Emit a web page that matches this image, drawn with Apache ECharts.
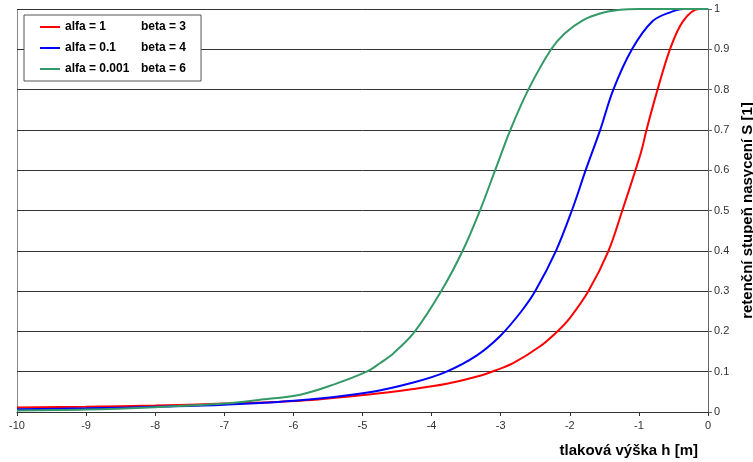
<!DOCTYPE html>
<html><head><meta charset="utf-8">
<script src="https://cdn.jsdelivr.net/npm/echarts@6/dist/echarts.min.js"></script>
<style>html,body{margin:0;padding:0;background:#fff}#c{width:753px;height:462px}</style>
</head><body><div id="c"></div>
<script>
var seriesNames = ['alfa = 1', 'alfa = 0.1', 'alfa = 0.001'];
var betaLabels = ['beta = 3', 'beta = 4', 'beta = 6'];
var xTicks = [-10, -9, -8, -7, -6, -5, -4, -3, -2, -1, 0];
var yTicks = [0, 0.1, 0.2, 0.3, 0.4, 0.5, 0.6, 0.7, 0.8, 0.9, 1];

var hRed = [-10, -9, -8, -7, -5.9, -4.94, -4.265, -3.78, -3.3, -3.11, -2.82, -2.43, -2.18, -2.0, -1.73, -1.44, -1.24, -1.05, -0.96, -0.89, -0.73, -0.55, -0.36, -0.13, 0];
var sRed = [0.011, 0.013, 0.016, 0.021, 0.028, 0.043, 0.057, 0.070, 0.09, 0.101, 0.121, 0.163, 0.2, 0.233, 0.3, 0.4, 0.5, 0.6, 0.65, 0.7, 0.8, 0.9, 0.97, 1.0, 1.0];

var hBlue = [-10, -9, -8, -7, -5.9, -4.9, -4.25, -3.8, -3.35, -3.0, -2.7, -2.5, -2.2, -1.97, -1.77, -1.56, -1.37, -1.1, -0.8, -0.53, -0.36, 0];
var sBlue = [0.007, 0.009, 0.013, 0.018, 0.029, 0.049, 0.074, 0.099, 0.14, 0.19, 0.25, 0.3, 0.4, 0.5, 0.6, 0.7, 0.8, 0.9, 0.97, 0.993, 1.0, 1.0];

var hGreen = [-10, -9, -8, -7, -6.5, -5.9, -5.42, -4.94, -4.75, -4.55, -4.25, -3.86, -3.55, -3.3, -3.08, -2.86, -2.6, -2.27, -2.07, -1.8, -1.56, -1.27, -1.0, 0];
var sGreen = [0.004, 0.006, 0.012, 0.021, 0.03, 0.043, 0.068, 0.1, 0.121, 0.146, 0.198, 0.3, 0.4, 0.5, 0.6, 0.7, 0.8, 0.9, 0.94, 0.973, 0.989, 0.998, 1.0, 1.0];

function pairs(h, s) { return h.map(function (v, i) { return [v, s[i]]; }); }

var chart = echarts.init(document.getElementById('c'), null, { renderer: 'canvas' });
var font = '"Liberation Sans", Arial, sans-serif';
var lineIcon = 'path://M0,0H20V2H0Z';
chart.setOption({
  animation: false,
  backgroundColor: '#fff',
  textStyle: { fontFamily: font },
  grid: { left: 17, right: 45, top: 9, bottom: 50, containLabel: false, outerBoundsMode: 'none' },
  legend: {
    orient: 'vertical', left: 24, top: 15,
    padding: [6, 15, 6, 16], itemGap: 9, itemWidth: 20, itemHeight: 14,
    backgroundColor: '#fff', borderColor: '#555', borderWidth: 1,
    data: seriesNames.map(function (n) { return { name: n, icon: lineIcon }; }),
    itemStyle: { borderWidth: 0 },
    textStyle: { fontFamily: font, fontSize: 12, fontWeight: 'bold', color: '#000',
      rich: { a: { width: 76, fontFamily: font, fontSize: 12, fontWeight: 'bold', color: '#000' },
              b: { fontFamily: font, fontSize: 12, fontWeight: 'bold', color: '#000' } } },
    formatter: function (name) { var i = seriesNames.indexOf(name); return '{a|' + name + '}{b|' + betaLabels[i] + '}'; }
  },
  xAxis: {
    type: 'value', min: xTicks[0], max: xTicks[xTicks.length - 1], interval: 1,
    axisLine: { show: true, onZero: false, lineStyle: { color: '#333', width: 1 } },
    axisTick: { show: true, length: 4, lineStyle: { color: '#333' } },
    axisLabel: { color: '#333', fontSize: 11, fontFamily: font, margin: 8 },
    splitLine: { show: false }
  },
  yAxis: {
    type: 'value', position: 'right', min: yTicks[0], max: yTicks[yTicks.length - 1], interval: 0.1,
    axisLine: { show: true, lineStyle: { color: '#666', width: 1 } },
    axisTick: { show: true, length: 4, lineStyle: { color: '#666' } },
    axisLabel: { color: '#333', fontSize: 11, fontFamily: font, margin: 6,
                 formatter: function (v) { return String(Math.round(v * 10) / 10); } },
    splitLine: { show: true, lineStyle: { color: '#333', width: 1 } },
    name: 'retenční stupeň nasycení S [1]', nameLocation: 'middle', nameRotate: 90, nameGap: 28,
    nameTextStyle: { fontFamily: font, fontSize: 15, fontWeight: 'bold', color: '#000' }
  },
  graphic: [
    { type: 'line', shape: { x1: 17.5, y1: 9, x2: 17.5, y2: 412 }, style: { stroke: '#888', lineWidth: 1 }, silent: true },
    { type: 'line', shape: { x1: 17, y1: 9.5, x2: 708, y2: 9.5 }, style: { stroke: '#999', lineWidth: 1 }, silent: true },
    { type: 'text', x: 698, y: 451, style: { text: 'tlaková výška h [m]', font: 'bold 15px "Liberation Sans", Arial, sans-serif', fill: '#000', align: 'right', verticalAlign: 'middle' } }
  ],
  series: [
    { name: seriesNames[0], type: 'line', data: pairs(hRed, sRed), smooth: 0.35, symbol: 'none', lineStyle: { color: '#ff0000', width: 2 }, itemStyle: { color: '#ff0000' }, z: 3 },
    { name: seriesNames[1], type: 'line', data: pairs(hBlue, sBlue), smooth: 0.35, symbol: 'none', lineStyle: { color: '#0000ff', width: 2 }, itemStyle: { color: '#0000ff' }, z: 4 },
    { name: seriesNames[2], type: 'line', data: pairs(hGreen, sGreen), smooth: 0.35, symbol: 'none', lineStyle: { color: '#339966', width: 2 }, itemStyle: { color: '#339966' }, z: 5 }
  ]
});
</script></body></html>
